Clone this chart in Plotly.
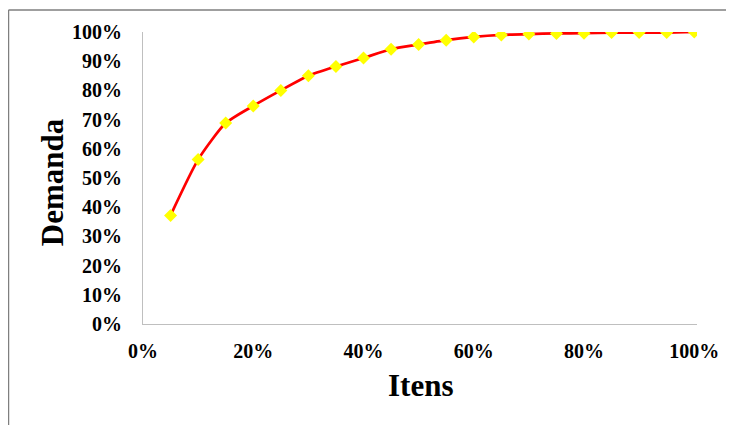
import plotly.graph_objects as go

itens = [0.05, 0.10, 0.15, 0.20, 0.25, 0.30, 0.35, 0.40, 0.45, 0.50,
         0.55, 0.60, 0.65, 0.70, 0.75, 0.80, 0.85, 0.90, 0.95, 1.00]
demanda = [0.372, 0.563, 0.688, 0.747, 0.800, 0.850, 0.882, 0.911, 0.941, 0.957,
           0.972, 0.983, 0.990, 0.993, 0.995, 0.996, 0.998, 0.998, 0.998, 1.000]

x_ticks = [0, 0.2, 0.4, 0.6, 0.8, 1.0]
x_tick_labels = ["0%", "20%", "40%", "60%", "80%", "100%"]
y_ticks = [i / 10 for i in range(11)]
y_tick_labels = [f"{i * 10}%" for i in range(11)]

font_family = "Liberation Serif, Times New Roman, serif"

fig = go.Figure()
fig.add_trace(go.Scatter(
    x=itens, y=demanda, mode="lines+markers",
    line=dict(color="#ff0000", width=2.75, shape="spline", smoothing=0.6),
    marker=dict(symbol="diamond", color="#ffff00", size=10, line=dict(width=0)),
    showlegend=False,
))

axis_common = dict(
    showgrid=False, zeroline=False, showline=True, linecolor="#bfbfbf", linewidth=1,
    ticks="", tickfont=dict(family=font_family, size=20, color="black", weight="bold"),
)

fig.update_layout(
    width=726, height=417,
    margin=dict(l=135, r=37, t=24, b=101),
    paper_bgcolor="white", plot_bgcolor="white",
    xaxis=dict(range=[0, 1.005], tickvals=x_ticks, ticktext=x_tick_labels,
               ticklabelstandoff=9, **axis_common),
    yaxis=dict(range=[0, 1.0], tickvals=y_ticks, ticktext=y_tick_labels,
               ticklabelstandoff=16, **axis_common),
    annotations=[
        dict(text="<b>Itens</b>", xref="paper", yref="paper", x=0.5, y=-0.209,
             xanchor="center", yanchor="middle", showarrow=False,
             font=dict(family=font_family, size=31, color="black")),
        dict(text="<b>Demanda</b>", xref="paper", yref="paper", x=-0.164, y=0.486,
             xanchor="center", yanchor="middle", showarrow=False, textangle=-90,
             font=dict(family=font_family, size=31, color="black")),
    ],
    shapes=[
        dict(type="line", xref="paper", yref="paper", x0=-0.2428, x1=-0.2428, y0=1.0753, y1=-0.4,
             line=dict(color="#7f7f7f", width=1.5)),
        dict(type="line", xref="paper", yref="paper", x0=-0.2428, x1=1.1, y0=1.0753, y1=1.0753,
             line=dict(color="#7f7f7f", width=1.5)),
    ],
)

fig.write_html("out.html")
